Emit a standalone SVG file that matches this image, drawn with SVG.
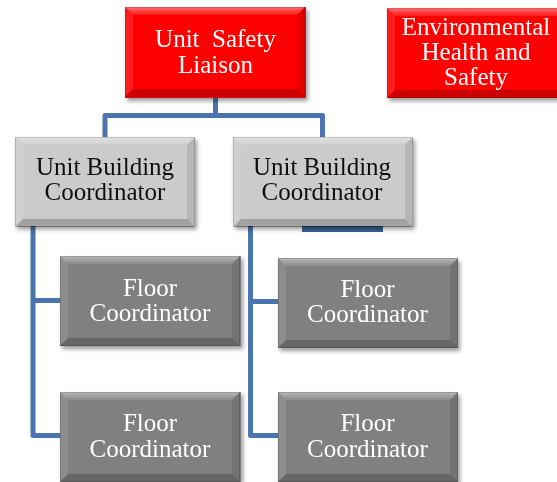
<svg xmlns="http://www.w3.org/2000/svg" xmlns:xlink="http://www.w3.org/1999/xlink" width="557" height="482" viewBox="0 0 557 482">
<style>
.red{fill:#ff0000}
.lg{fill:#cbcbcb}
.dg{fill:#808080}
.t{font-family:"Liberation Serif","DejaVu Serif",serif;font-size:25px;text-anchor:middle;white-space:pre}
.w{fill:#ffffff}
.k{fill:#111111}
.conn{fill:none;stroke:#4a74ad;stroke-width:5;stroke-linejoin:round}
</style>
<defs>
<filter id="sh" x="-10%" y="-10%" width="125%" height="130%">
<feDropShadow dx="2" dy="3" stdDeviation="2" flood-color="#000" flood-opacity="0.4"/>
</filter>
<linearGradient id="topg" x1="0" y1="0" x2="0" y2="1">
<stop offset="0" stop-color="#fff" stop-opacity="0.45"/>
<stop offset="1" stop-color="#fff" stop-opacity="0.08"/>
</linearGradient>
<g id="bevel">
<polygon points="0,0 180,0 172,8 8,8" fill="url(#topg)"/>
<polygon points="0,0 8,8 8,82 0,90" fill="#fff" opacity="0.1"/>
<polygon points="180,0 180,90 172,82 172,8" fill="#000" opacity="0.1"/>
<polygon points="0,90 180,90 172,82 8,82" fill="#000" opacity="0.2"/>
<rect x="0.5" y="0.5" width="179" height="89" fill="none" stroke="#000" stroke-opacity="0.15"/>
</g>
</defs>
<g id="connectors">
<path class="conn" d="M215.5,98 V115.5 H105 V137 M215.5,115.5 H322.5 V137"/>
<path class="conn" d="M33,226 V435.5 H60 M33,300.5 H60"/>
<path class="conn" d="M250.5,226 V435.5 H278 M250.5,301.5 H278"/>
<rect x="302" y="225" width="81" height="7" fill="#3b6496"/>
</g>
<g id="unit-safety-liaison" transform="translate(125,7)" filter="url(#sh)">
<rect class="red" width="181" height="91"/>
<use xlink:href="#bevel"/>
<text class="t w" x="90.5" y="40">Unit  Safety</text>
<text class="t w" x="90.5" y="66">Liaison</text>
</g>
<g id="ehs" transform="translate(387,8)" filter="url(#sh)">
<rect class="red" width="180" height="90"/>
<use xlink:href="#bevel"/>
<text class="t w" x="89" y="27">Environmental</text>
<text class="t w" x="89" y="52">Health and</text>
<text class="t w" x="89" y="77">Safety</text>
</g>
<g id="ubc-left" transform="translate(15,137)" filter="url(#sh)">
<rect class="lg" width="180" height="89"/>
<use xlink:href="#bevel"/>
<text class="t k" x="90" y="37.5">Unit Building</text>
<text class="t k" x="90" y="63">Coordinator</text>
</g>
<g id="ubc-right" transform="translate(233,137)" filter="url(#sh)">
<rect class="lg" width="180" height="89"/>
<use xlink:href="#bevel"/>
<text class="t k" x="89" y="37.5">Unit Building</text>
<text class="t k" x="89" y="63">Coordinator</text>
</g>
<g id="fc-left-1" transform="translate(60,256)" filter="url(#sh)">
<rect class="dg" width="181" height="90"/>
<use xlink:href="#bevel"/>
<text class="t w" x="90" y="40">Floor</text>
<text class="t w" x="90" y="65">Coordinator</text>
</g>
<g id="fc-left-2" transform="translate(60,392)" filter="url(#sh)">
<rect class="dg" width="181" height="90"/>
<use xlink:href="#bevel"/>
<text class="t w" x="90" y="39">Floor</text>
<text class="t w" x="90" y="65">Coordinator</text>
</g>
<g id="fc-right-1" transform="translate(278,258)" filter="url(#sh)">
<rect class="dg" width="180" height="90"/>
<use xlink:href="#bevel"/>
<text class="t w" x="89.5" y="39">Floor</text>
<text class="t w" x="89.5" y="64">Coordinator</text>
</g>
<g id="fc-right-2" transform="translate(278,392)" filter="url(#sh)">
<rect class="dg" width="180" height="90"/>
<use xlink:href="#bevel"/>
<text class="t w" x="89.5" y="39">Floor</text>
<text class="t w" x="89.5" y="65">Coordinator</text>
</g>
</svg>
